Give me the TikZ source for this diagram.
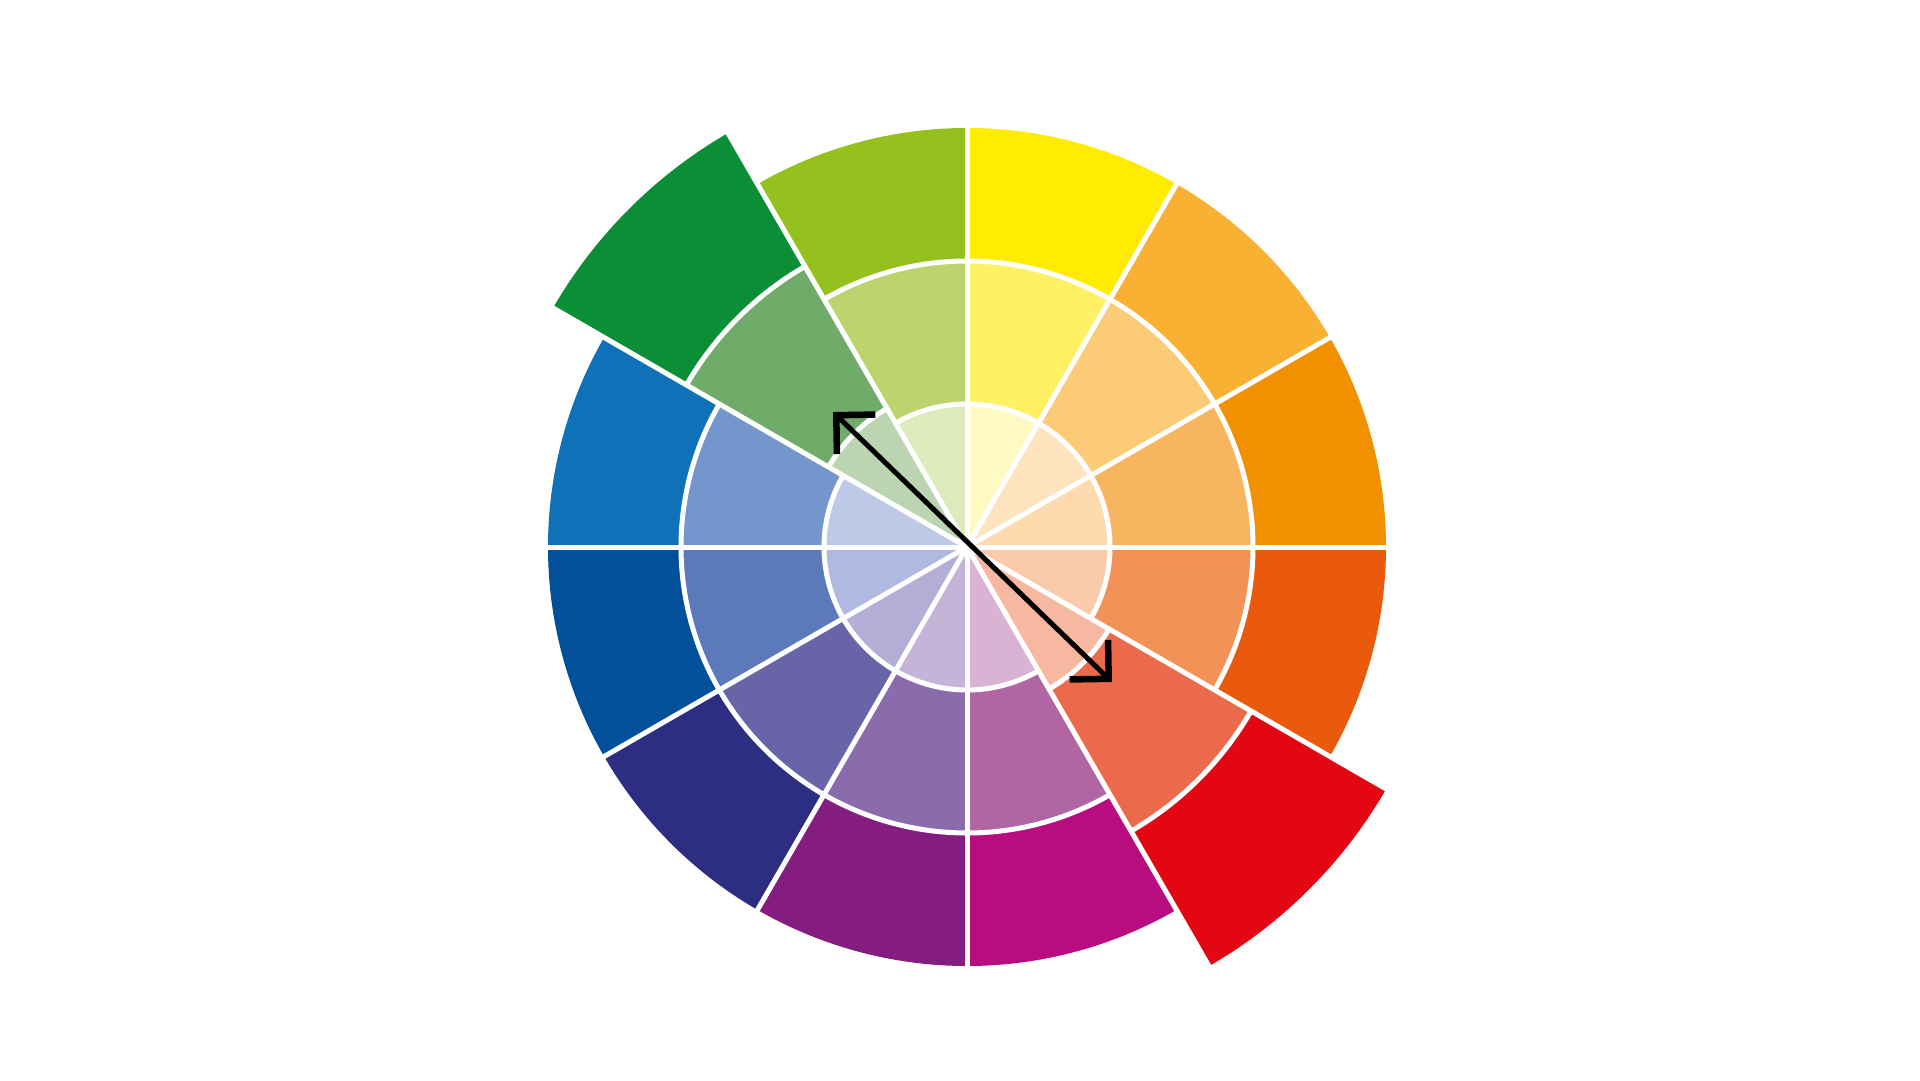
\documentclass[tikz,border=0pt]{standalone}
\usetikzlibrary{arrows.meta}
% outer ring
\definecolor{oA}{HTML}{F29100}
\definecolor{oB}{HTML}{F8B133}
\definecolor{oC}{HTML}{FFEC00}
\definecolor{oD}{HTML}{95C11F}
\definecolor{oE}{HTML}{0B8E36}
\definecolor{oF}{HTML}{0F71B7}
\definecolor{oG}{HTML}{03509A}
\definecolor{oH}{HTML}{2D2E82}
\definecolor{oI}{HTML}{841D7F}
\definecolor{oJ}{HTML}{B70D7F}
\definecolor{oK}{HTML}{E30613}
\definecolor{oL}{HTML}{E95A0C}
% middle ring
\definecolor{mA}{HTML}{F7B55F}
\definecolor{mB}{HTML}{FBCB78}
\definecolor{mC}{HTML}{FFF064}
\definecolor{mD}{HTML}{BDD46E}
\definecolor{mE}{HTML}{70AB69}
\definecolor{mF}{HTML}{7596CD}
\definecolor{mG}{HTML}{5C7ABA}
\definecolor{mH}{HTML}{6864A7}
\definecolor{mI}{HTML}{8A6BAC}
\definecolor{mJ}{HTML}{B166A4}
\definecolor{mK}{HTML}{EC6A4C}
\definecolor{mL}{HTML}{F29256}
% inner disc
\definecolor{iA}{HTML}{FDDBAF}
\definecolor{iB}{HTML}{FEE3BF}
\definecolor{iC}{HTML}{FFF9C2}
\definecolor{iD}{HTML}{DFEABC}
\definecolor{iE}{HTML}{BBD5B3}
\definecolor{iF}{HTML}{BEC9E8}
\definecolor{iG}{HTML}{B0B9DF}
\definecolor{iH}{HTML}{B3AED6}
\definecolor{iI}{HTML}{C4B4D7}
\definecolor{iJ}{HTML}{D8B3D4}
\definecolor{iK}{HTML}{F6B8A0}
\definecolor{iL}{HTML}{F9CBAA}
\tikzset{
  sep/.style={white, line width=0.5mm},
  contrast/.style={black, line width=0.5mm,
    {Straight Barb[angle=90:3.9mm, sharp, line width=0.65mm]}-{Straight Barb[angle=90:3.9mm, sharp, line width=0.65mm]}}
}
\begin{document}
\begin{tikzpicture}[x=0.1mm,y=0.1mm]
\useasboundingbox (0,0) rectangle (1920,1080);
\fill[white] (0,0) rectangle (1920,1080);
\begin{scope}[shift={(967,533)}]
  % each sector: start angle / inner radius / middle radius / outer radius / colours
  \foreach \a/\ri/\rm/\ro/\ci/\cm/\co in {
      0/143/286/419/iA/mA/oA,
     30/143/286/419/iB/mB/oB,
     60/143/286/419/iC/mC/oC,
     90/143/286/419/iD/mD/oD,
    120/160/324/478/iE/mE/oE,
    150/143/286/419/iF/mF/oF,
    180/143/286/419/iG/mG/oG,
    210/143/286/419/iH/mH/oH,
    240/143/286/419/iI/mI/oI,
    270/143/286/419/iJ/mJ/oJ,
    300/164/328/484/iK/mK/oK,
    330/143/286/419/iL/mL/oL}
  {
    \fill[\co] (0,0) -- (\a:\ro) arc[start angle=\a, delta angle=30, radius=\ro] -- cycle;
    \fill[\cm] (0,0) -- (\a:\rm) arc[start angle=\a, delta angle=30, radius=\rm] -- cycle;
    \fill[\ci] (0,0) -- (\a:\ri) arc[start angle=\a, delta angle=30, radius=\ri] -- cycle;
    \draw[sep] (\a:\rm) arc[start angle=\a, delta angle=30, radius=\rm];
    \draw[sep] (\a:\ri) arc[start angle=\a, delta angle=30, radius=\ri];
  }
  % radial white separators
  \foreach \a in {0,30,...,330}
    \draw[sep] (0,0) -- (\a:490);
  % complementary arrow
  \coordinate (tipA) at (-134,135);
  \coordinate (tipB) at (145,-135);
  \draw[contrast] (tipA) -- (tipB);
\end{scope}
\end{tikzpicture}
\end{document}
